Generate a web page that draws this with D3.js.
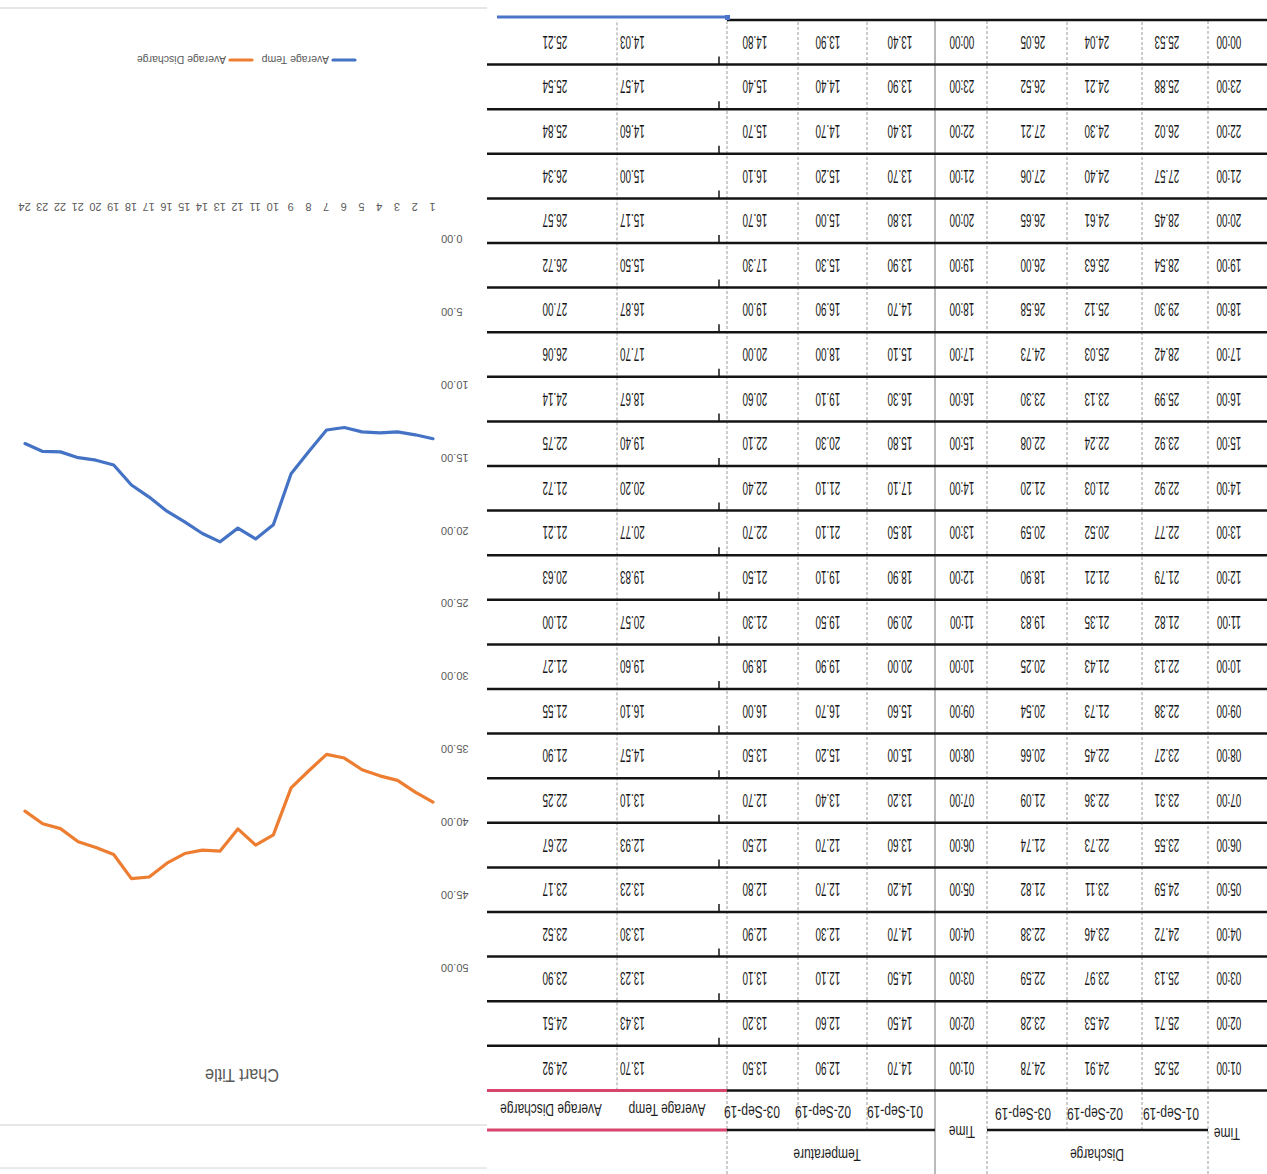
<!DOCTYPE html>
<html>
<head>
<meta charset="utf-8">
<script src="https://cdn.jsdelivr.net/npm/d3@7"></script>
<style>
  html, body { margin: 0; padding: 0; background: #fff; }
  svg { display: block; font-family: "Liberation Sans", Arial, sans-serif; }
</style>
</head>
<body>
<svg id="sheet" width="1267" height="1174"></svg>
<script>
// Hourly readings, 01:00 through 00:00
const times = ["01:00","02:00","03:00","04:00","05:00","06:00","07:00","08:00","09:00","10:00","11:00","12:00",
               "13:00","14:00","15:00","16:00","17:00","18:00","19:00","20:00","21:00","22:00","23:00","00:00"];
const hours = d3.range(1, 25);
const dates = ["01-Sep-19", "02-Sep-19", "03-Sep-19"];

const discharge01 = [25.25,25.71,25.13,24.72,24.59,23.55,23.31,23.27,22.38,22.13,21.82,21.79,22.77,22.92,23.92,25.99,28.42,29.30,28.54,28.45,27.57,26.02,25.88,25.53];
const discharge02 = [24.91,24.53,23.97,23.46,23.11,22.73,22.36,22.45,21.73,21.43,21.35,21.21,20.52,21.03,22.24,23.13,25.03,25.12,25.63,24.61,24.40,24.30,24.21,24.04];
const discharge03 = [24.78,23.28,22.59,22.38,21.82,21.74,21.09,20.66,20.54,20.25,19.83,18.90,20.59,21.20,22.08,23.30,24.73,26.58,26.00,26.65,27.06,27.21,26.52,26.05];

const temp01 = [14.70,14.50,14.50,14.70,14.20,13.60,13.20,15.00,15.60,20.00,20.90,18.90,18.50,17.10,15.80,16.30,15.10,14.70,13.90,13.80,13.70,13.40,13.90,13.40];
const temp02 = [12.90,12.60,12.10,12.30,12.70,12.70,13.40,15.20,16.70,19.90,19.50,19.10,21.10,21.10,20.30,19.10,18.00,16.90,15.30,15.00,15.20,14.70,14.40,13.90];
const temp03 = [13.50,13.20,13.10,12.90,12.80,12.50,12.70,13.50,16.00,18.90,21.30,21.50,22.70,22.40,22.10,20.60,20.00,19.00,17.30,16.70,16.10,15.70,15.40,14.80];

const avgTemp = [13.70,13.43,13.23,13.30,13.23,12.93,13.10,14.57,16.10,19.60,20.57,19.83,20.77,20.20,19.40,18.67,17.70,16.87,15.50,15.17,15.00,14.60,14.57,14.03];
const avgDischarge = [24.92,24.51,23.90,23.52,23.17,22.67,22.25,21.90,21.55,21.27,21.00,20.63,21.21,21.72,22.75,24.14,26.06,27.00,26.72,26.57,26.34,25.84,25.54,25.21];

const yTicks = d3.range(0, 51, 5);
const seriesNames = ["Average Temp", "Average Discharge"];
const seriesColors = ["#4472C4", "#ED7D31"];

const W = 1267, H = 1174;
const svg = d3.select("#sheet");
svg.append("rect").attr("width", W).attr("height", H).attr("fill", "#fff");

// the sheet is viewed upside down
const page = svg.append("g").attr("transform", `rotate(180 ${W / 2} ${H / 2})`);

function ctext(sel, x, y, str, size, sx, anchor, fill) {
  return sel.append("text")
    .attr("transform", `translate(${x},${y}) scale(${sx},1)`)
    .attr("text-anchor", anchor)
    .attr("font-size", size)
    .attr("fill", fill)
    .text(str);
}

// ---------- worksheet table ----------
const table = page.append("g");
const headH = 83.6, rowH = 44.6, tableBottom = headH + 24 * rowH;

const rowY = d3.scaleLinear().domain([0, 24]).range([headH, tableBottom]);

// vertical cell borders
const vFull = [59, 280, 332, 540];
const vBody = [125, 200, 400, 469];
vFull.forEach(x => table.append("line")
  .attr("x1", x).attr("x2", x).attr("y1", 0).attr("y2", tableBottom)
  .attr("stroke", x === 332 ? "#777" : "#9a9a9a").attr("stroke-width", 1)
  .attr("stroke-dasharray", x === 332 ? null : "3,2"));
vBody.forEach(x => table.append("line")
  .attr("x1", x).attr("x2", x).attr("y1", 44).attr("y2", tableBottom)
  .attr("stroke", "#9a9a9a").attr("stroke-width", 1).attr("stroke-dasharray", "3,2"));
table.append("line").attr("x1", 650).attr("x2", 650).attr("y1", headH).attr("y2", tableBottom)
  .attr("stroke", "#9a9a9a").attr("stroke-width", 1).attr("stroke-dasharray", "3,2");

// horizontal row borders
d3.range(0, 25).forEach(k => {
  const y = rowY(k);
  const xEnd = (k === 0 || k === 24) ? 540 : 780;
  table.append("line").attr("x1", 0).attr("x2", xEnd).attr("y1", y).attr("y2", y)
    .attr("stroke", "#141414").attr("stroke-width", 2.5);
  if (k > 0 && k < 24) {
    table.append("path").attr("d", `M548,${y} L548,${y + 8}`)
      .attr("stroke", "#141414").attr("stroke-width", 1.5).attr("fill", "none");
  }
});
// header group underlines
[[59, 280], [332, 540]].forEach(([a, b]) => table.append("line")
  .attr("x1", a).attr("x2", b).attr("y1", 44).attr("y2", 44)
  .attr("stroke", "#141414").attr("stroke-width", 2.5));
// highlighted ranges of the average columns
[headH, 44].forEach(y => table.append("line")
  .attr("x1", 540).attr("x2", 780).attr("y1", y).attr("y2", y)
  .attr("stroke", "#d8446c").attr("stroke-width", 3));
table.append("line").attr("x1", 540).attr("x2", 770).attr("y1", tableBottom + 3).attr("y2", tableBottom + 3)
  .attr("stroke", "#4a74c9").attr("stroke-width", 3);
table.append("rect").attr("x", 537).attr("y", tableBottom).attr("width", 5).attr("height", 5).attr("fill", "#4a74c9");

// header text
const hdr = "#1e1e1e";
ctext(table, 40, 46, "Time", 16, 0.75, "middle", hdr);
ctext(table, 170, 25, "Discharge", 16, 0.75, "middle", hdr);
ctext(table, 305, 48, "Time", 16, 0.75, "middle", hdr);
ctext(table, 440, 25, "Temperature", 16, 0.75, "middle", hdr);
const dDates = [96, 172, 244], tDates = [372, 444, 515];
dates.forEach((d, i) => {
  ctext(table, dDates[i], 66, d, 16, 0.75, "middle", hdr);
  ctext(table, tDates[i], 68, d, 16, 0.75, "middle", hdr);
});
ctext(table, 600, 70, "Average Temp", 16, 0.75, "middle", hdr);
ctext(table, 716, 70, "Average Discharge", 16, 0.75, "middle", hdr);

// cell values
const cellCols = [
  { vals: times, x: 38, anchor: "middle", fmt: v => v },
  { vals: discharge01, x: 100, anchor: "middle" },
  { vals: discharge02, x: 170, anchor: "middle" },
  { vals: discharge03, x: 234, anchor: "middle" },
  { vals: times, x: 305, anchor: "middle", fmt: v => v },
  { vals: temp01, x: 367, anchor: "middle" },
  { vals: temp02, x: 439, anchor: "middle" },
  { vals: temp03, x: 512, anchor: "middle" },
  { vals: avgTemp, x: 647, anchor: "end" },
  { vals: avgDischarge, x: 712, anchor: "middle" }
];
cellCols.forEach(c => {
  c.vals.forEach((v, i) => {
    const y = rowY(i) + rowH / 2 + 6.5;
    ctext(table, c.x, y, c.fmt ? c.fmt(v) : v.toFixed(2), 18, 0.55, c.anchor, "#151515");
  });
});

// ---------- chart ----------
const chart = page.append("g");
const chartGray = "#595959";

chart.append("line").attr("x1", 780).attr("x2", W).attr("y1", 49).attr("y2", 49).attr("stroke", "#cfcfcf");
chart.append("line").attr("x1", 780).attr("x2", W).attr("y1", 1166).attr("y2", 1166).attr("stroke", "#cfcfcf");
chart.append("line").attr("x1", 780).attr("x2", W).attr("y1", 6).attr("y2", 6).attr("stroke", "#d6d6d6");

ctext(chart, 1025, 105, "Chart Title", 18, 0.9, "middle", chartGray);

const x = d3.scalePoint().domain(hours).range([834, 1242]);
const y = d3.scaleLinear().domain([0, 50]).range([935, 206]);

// value axis
const yAxis = chart.append("g").attr("transform", "translate(826,0)")
  .call(d3.axisLeft(y).tickValues(yTicks).tickFormat(d => d.toFixed(2)).tickSize(0).tickPadding(0));
yAxis.select(".domain").remove();
yAxis.selectAll("text").attr("font-size", 11).attr("fill", chartGray).attr("font-family", "Liberation Sans, Arial, sans-serif");

// category axis
const xAxis = chart.append("g").attr("transform", `translate(0,${y(0) + 28})`)
  .call(d3.axisBottom(x).tickSize(0).tickPadding(0));
xAxis.select(".domain").remove();
xAxis.selectAll("text").attr("font-size", 11).attr("fill", chartGray).attr("font-family", "Liberation Sans, Arial, sans-serif");

// stacked lines: discharge sits on top of temperature
const rows = hours.map((h, i) => ({ hour: h, temp: avgTemp[i], discharge: avgDischarge[i] }));
const stacked = d3.stack().keys(["temp", "discharge"])(rows);
const line = d3.line().x(d => x(d.data.hour)).y(d => y(d[1]));
stacked.forEach((s, i) => {
  chart.append("path").datum(s).attr("d", line)
    .attr("fill", "none").attr("stroke", seriesColors[i]).attr("stroke-width", 3.2)
    .attr("stroke-linejoin", "round").attr("stroke-linecap", "round");
});

// legend
const legendY = 1114;
const legendItems = [{ x: 912, i: 0 }, { x: 1015, i: 1 }];
legendItems.forEach(({ x: lx, i }) => {
  chart.append("line").attr("x1", lx).attr("x2", lx + 22).attr("y1", legendY).attr("y2", legendY)
    .attr("stroke", seriesColors[i]).attr("stroke-width", 3.2).attr("stroke-linecap", "round");
  chart.append("text").attr("x", lx + 26).attr("y", legendY + 4)
    .attr("font-size", 10.5).attr("fill", chartGray).text(seriesNames[i]);
});
</script>
</body>
</html>
